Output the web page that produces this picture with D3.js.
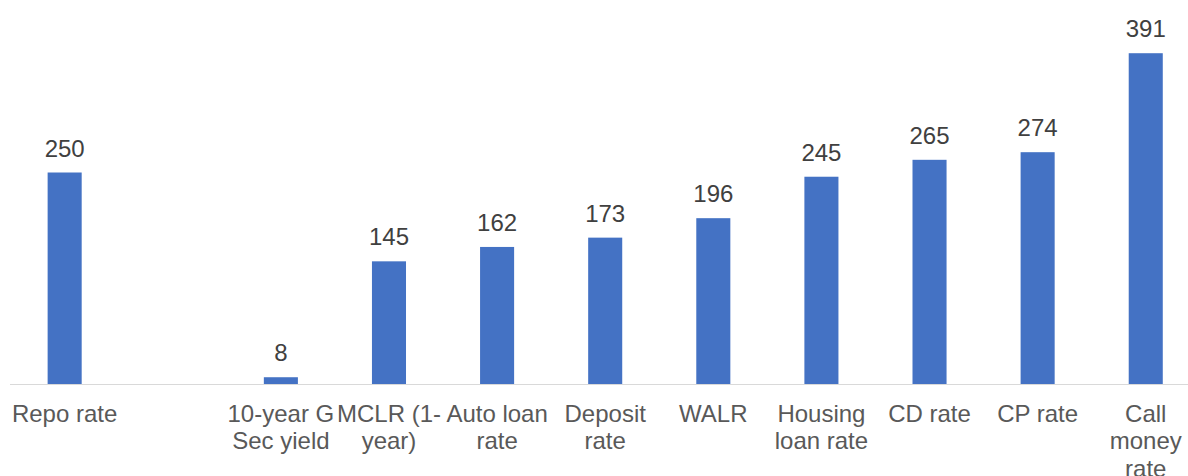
<!DOCTYPE html>
<html>
<head>
<meta charset="utf-8">
<script src="https://cdn.jsdelivr.net/npm/d3@7"></script>
<style>
  body { margin: 0; background: #fff; }
  svg { display: block; font-family: "Liberation Sans", Arial, sans-serif; }
</style>
</head>
<body>
<svg></svg>
<script>
var width = 1188;
var height = 476;

// categories (line breaks as in the original wrapped labels), one empty slot
var categories = ['Repo rate', '', '10-year G Sec yield', 'MCLR (1-year)', 'Auto loan rate', 'Deposit rate',
                  'WALR', 'Housing loan rate', 'CD rate', 'CP rate', 'Call money rate'];
var labelLines = [['Repo rate'], [], ['10-year G', 'Sec yield'], ['MCLR (1-', 'year)'], ['Auto loan', 'rate'],
                  ['Deposit', 'rate'], ['WALR'], ['Housing', 'loan rate'], ['CD rate'], ['CP rate'],
                  ['Call', 'money', 'rate']];
var values = [250, null, 8, 145, 162, 173, 196, 245, 265, 274, 391];

var baseline = 384;

var svg = d3.select('svg')
            .attr('width', width)
            .attr('height', height);

var x = d3.scaleBand()
          .domain(categories)
          .range([10.6, 1199.8])
          .paddingInner(0.685)
          .paddingOuter(0.3425);

var y = d3.scaleLinear()
          .domain([0, 400])
          .range([baseline, baseline - 338.4]);

var data = categories.map((c, i) => ({cat: c, value: values[i], lines: labelLines[i]}))
var barData = data.filter(d => d.value != null);

//Bars
svg.append('g')
    .selectAll('rect')
    .data(barData)
    .enter()
    .append('rect')
        .attr('x', d => x(d.cat))
        .attr('y', d => y(d.value))
        .attr('width', x.bandwidth())
        .attr('height', d => y(0) - y(d.value))
        .attr('fill', '#4472C4');

//Axis line
svg.append('line')
    .attr('x1', 10)
    .attr('x2', width)
    .attr('y1', baseline + 0.5)
    .attr('y2', baseline + 0.5)
    .attr('stroke', '#d9d9d9')
    .attr('stroke-width', 1.2);

//Value labels
svg.append('g')
    .selectAll('text')
    .data(barData)
    .enter()
    .append('text')
        .attr('x', d => x(d.cat) + x.bandwidth() / 2)
        .attr('y', d => y(d.value) - 16)
        .style('text-anchor', 'middle')
        .style('font-size', '24px')
        .attr('fill', '#404040')
        .text(d => d.value);

//Category labels
var cats = svg.append('g')
    .selectAll('text')
    .data(data)
    .enter()
    .append('text')
        .attr('x', d => x(d.cat) + x.bandwidth() / 2)
        .attr('y', 421.5)
        .style('text-anchor', 'middle')
        .style('font-size', '24px')
        .attr('fill', '#595959');

cats.selectAll('tspan')
    .data(d => d.lines.map(l => ({text: l, x: x(d.cat) + x.bandwidth() / 2})))
    .enter()
    .append('tspan')
        .attr('x', d => d.x)
        .attr('dy', (d, i) => i === 0 ? 0 : 27.6)
        .text(d => d.text);
</script>
</body>
</html>
